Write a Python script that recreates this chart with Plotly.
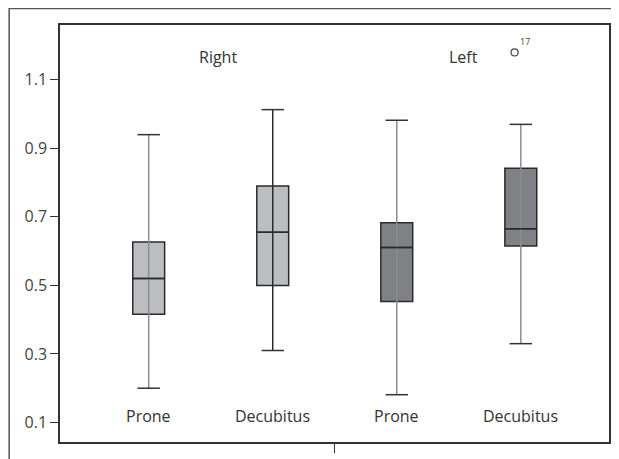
import plotly.graph_objects as go

categories = ["Prone", "Decubitus", "Prone", "Decubitus"]
sides = ["Right", "Left"]
mins = [0.20, 0.31, 0.181, 0.33]
q1s = [0.416, 0.50, 0.453, 0.615]
medians = [0.52, 0.655, 0.611, 0.665]
q3s = [0.627, 0.79, 0.683, 0.842]
maxs = [0.94, 1.013, 0.982, 0.97]
fills = ["#bcbdc0", "#bcbdc0", "#808184", "#808184"]
whisker_colors = ["#8c8c8c", "#2a2a2a", "#8c8c8c", "#8c8c8c"]
outlier_value = 1.18
outlier_label = "17"
outlier_x = 2.95
yticks = [0.1, 0.3, 0.5, 0.7, 0.9, 1.1]

fig = go.Figure()
xs = list(range(len(categories)))
for i in xs:
    fig.add_trace(go.Box(
        x=[i], q1=[q1s[i]], median=[medians[i]], q3=[q3s[i]],
        lowerfence=[q1s[i]], upperfence=[q3s[i]],
        width=0.257, fillcolor=fills[i],
        line=dict(color="#2a2a2a", width=1.5),
        boxpoints=False, showlegend=False, hoverinfo="skip"))
for i in xs:
    fig.add_trace(go.Scatter(
        x=[i, i], y=[mins[i], maxs[i]], mode="lines",
        line=dict(color=whisker_colors[i], width=1.5),
        showlegend=False, hoverinfo="skip"))
fig.add_trace(go.Scatter(
    x=xs + xs, y=mins + maxs, mode="markers",
    marker=dict(symbol="line-ew", size=16, color="#333333",
                line=dict(color="#333333", width=1.5)),
    showlegend=False, hoverinfo="skip"))
for i in xs:
    fig.add_trace(go.Scatter(
        x=[i - 0.1285, i + 0.1285], y=[medians[i], medians[i]], mode="lines",
        line=dict(color="#2a2a2a", width=1.5),
        showlegend=False, hoverinfo="skip"))
fig.add_trace(go.Scatter(
    x=[outlier_x], y=[outlier_value], mode="markers+text",
    marker=dict(symbol="circle-open", size=7, color="#444444",
                line=dict(color="#444444", width=1.2)),
    text=[outlier_label], textposition="top right",
    textfont=dict(size=9, color="#444444", family="Open Sans"),
    showlegend=False, hoverinfo="skip"))

for i in xs:
    fig.add_annotation(x=i, y=0.118, text=categories[i], showarrow=False,
                       font=dict(size=16, color="#333333", family="Open Sans"))
for j, s in enumerate(sides):
    fig.add_annotation(x=0.555 + 1.98 * j, y=1.167, text=s, showarrow=False,
                       font=dict(size=16, color="#333333", family="Open Sans"))

fig.add_shape(type="rect", xref="paper", yref="paper",
              x0=-0.0926, x1=1.2, y0=-0.3, y1=1.0394,
              line=dict(color="#555555", width=1.5), layer="below")

fig.update_layout(
    width=611, height=451,
    margin=dict(l=52, r=8, t=17, b=15),
    paper_bgcolor="white", plot_bgcolor="white",
    xaxis=dict(range=[-0.715, 3.711], tickvals=[1.5], ticktext=[""],
               ticks="outside", ticklen=9, tickcolor="#333333", tickwidth=1,
               showline=True, mirror=True, linecolor="#333333", linewidth=1.5,
               showgrid=False, zeroline=False, fixedrange=True),
    yaxis=dict(range=[0.043, 1.26], tickvals=yticks,
               ticktext=[f"{v:.1f}" for v in yticks],
               ticks="outside", ticklen=8, tickcolor="#333333", tickwidth=1,
               tickfont=dict(size=16, color="#444444", family="Open Sans"),
               showline=True, mirror=True, linecolor="#333333", linewidth=1.5,
               showgrid=False, zeroline=False, fixedrange=True),
    font=dict(family="Open Sans"),
)

fig.write_html("out.html")
